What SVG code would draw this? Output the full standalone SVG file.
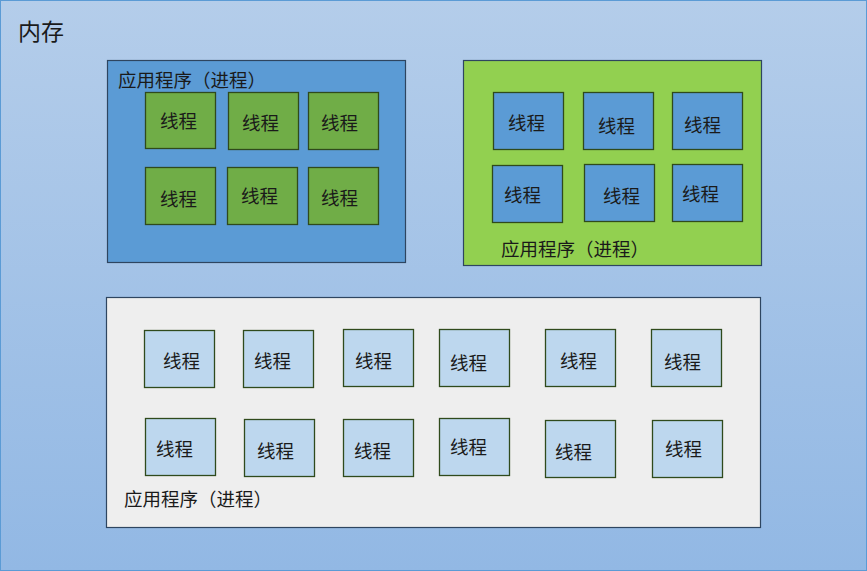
<svg xmlns="http://www.w3.org/2000/svg" width="867" height="571" viewBox="0 0 867 571">
<defs>
<linearGradient id="bg" x1="0" y1="0" x2="0" y2="1">
<stop offset="0" stop-color="#B4CDEA"/>
<stop offset="1" stop-color="#92B8E4"/>
</linearGradient>
<style>
text{font-family:"Noto Sans CJK SC","Noto Sans CJK TC",sans-serif;fill:#1a1a1a;dominant-baseline:central}
.proc{stroke:#2E4560;stroke-width:1.2}
.th{stroke:#2F4A1C;stroke-width:1.3}
.g{fill:#70AD47}
.b{fill:#5B9BD5}
.lb{fill:#BDD7EE}
.t{font-size:18.5px}
.p{font-size:18.5px}
</style>
</defs>
<g id="memory">
<rect x="0.5" y="0.5" width="866" height="570" fill="url(#bg)" stroke="#5B9BD5"/>
<text x="18" y="30" style="font-size:23px">内存</text>
</g>
<g id="process1">
<rect class="proc" x="107.5" y="60.5" width="298" height="202" fill="#5B9BD5"/>
<text class="p" x="118" y="79">应用程序（进程）</text>
</g>
<g id="p1t1"><rect class="th g" x="145.5" y="92.5" width="70" height="56"/><text class="t" x="160" y="120">线程</text></g>
<g id="p1t2"><rect class="th g" x="228.5" y="92.5" width="70" height="57"/><text class="t" x="242" y="122">线程</text></g>
<g id="p1t3"><rect class="th g" x="308.5" y="92.5" width="70" height="57"/><text class="t" x="321" y="122">线程</text></g>
<g id="p1t4"><rect class="th g" x="145.5" y="167.5" width="70" height="57"/><text class="t" x="160" y="198">线程</text></g>
<g id="p1t5"><rect class="th g" x="227.5" y="167.5" width="70" height="57"/><text class="t" x="241" y="195">线程</text></g>
<g id="p1t6"><rect class="th g" x="308.5" y="167.5" width="70" height="57"/><text class="t" x="321" y="197">线程</text></g>

<g id="process2">
<rect class="proc" x="463.5" y="60.5" width="298" height="205" fill="#92D050"/>
<text class="p" x="501" y="248">应用程序（进程）</text>
</g>
<g id="p2t1"><rect class="th b" x="493.5" y="92.5" width="70" height="57"/><text class="t" x="508" y="122">线程</text></g>
<g id="p2t2"><rect class="th b" x="583.5" y="92.5" width="70" height="57"/><text class="t" x="598" y="125">线程</text></g>
<g id="p2t3"><rect class="th b" x="672.5" y="92.5" width="70" height="57"/><text class="t" x="684" y="124">线程</text></g>
<g id="p2t4"><rect class="th b" x="492.5" y="165.5" width="70" height="57"/><text class="t" x="504" y="194">线程</text></g>
<g id="p2t5"><rect class="th b" x="584.5" y="164.5" width="70" height="57"/><text class="t" x="603" y="195">线程</text></g>
<g id="p2t6"><rect class="th b" x="672.5" y="164.5" width="70" height="57"/><text class="t" x="682" y="193">线程</text></g>

<g id="process3">
<rect class="proc" x="106.5" y="297.5" width="654" height="230" fill="#EEEEEE"/>
<text class="p" x="124" y="498">应用程序（进程）</text>
</g>
<g id="p3t1"><rect class="th lb" x="144.5" y="330.5" width="70" height="57"/><text class="t" x="163" y="360">线程</text></g>
<g id="p3t2"><rect class="th lb" x="243.5" y="330.5" width="70" height="57"/><text class="t" x="254" y="360">线程</text></g>
<g id="p3t3"><rect class="th lb" x="343.5" y="329.5" width="70" height="57"/><text class="t" x="355" y="360">线程</text></g>
<g id="p3t4"><rect class="th lb" x="439.5" y="329.5" width="70" height="57"/><text class="t" x="450" y="362">线程</text></g>
<g id="p3t5"><rect class="th lb" x="545.5" y="329.5" width="70" height="57"/><text class="t" x="560" y="360">线程</text></g>
<g id="p3t6"><rect class="th lb" x="651.5" y="329.5" width="70" height="57"/><text class="t" x="664" y="361">线程</text></g>
<g id="p3t7"><rect class="th lb" x="145.5" y="418.5" width="70" height="57"/><text class="t" x="156" y="448">线程</text></g>
<g id="p3t8"><rect class="th lb" x="244.5" y="419.5" width="70" height="57"/><text class="t" x="257" y="450">线程</text></g>
<g id="p3t9"><rect class="th lb" x="343.5" y="419.5" width="70" height="57"/><text class="t" x="354" y="450">线程</text></g>
<g id="p3t10"><rect class="th lb" x="439.5" y="418.5" width="70" height="57"/><text class="t" x="450" y="446">线程</text></g>
<g id="p3t11"><rect class="th lb" x="545.5" y="420.5" width="70" height="57"/><text class="t" x="555" y="451">线程</text></g>
<g id="p3t12"><rect class="th lb" x="652.5" y="420.5" width="70" height="57"/><text class="t" x="665" y="448">线程</text></g>
<g id="connectors"/>
</svg>
